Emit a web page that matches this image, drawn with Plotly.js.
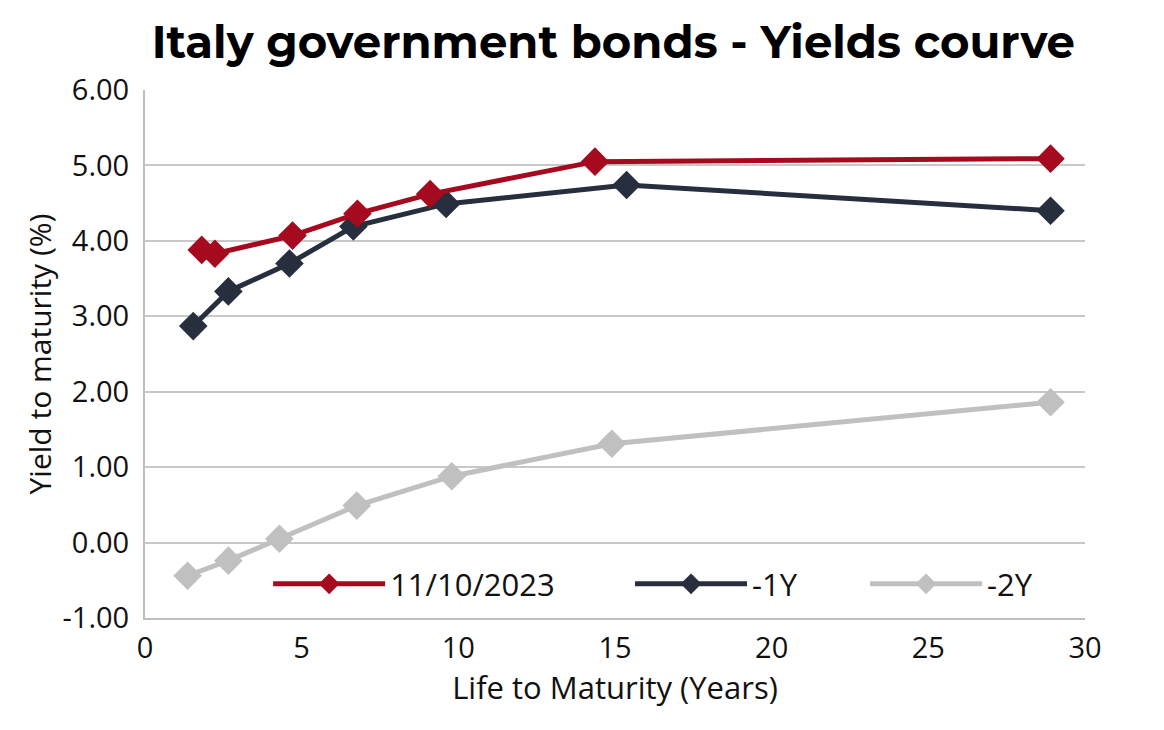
<!DOCTYPE html>
<html>
<head>
<meta charset="utf-8">
<script src="https://cdn.plot.ly/plotly-3.0.1.min.js"></script>
<style>html,body{margin:0;padding:0;background:#fff;}#chart{width:1164px;height:730px;}</style>
</head>
<body>
<div id="chart"></div>
<script>
const seriesNames = ["11/10/2023", "-1Y", "-2Y"];
const xNow = [1.81, 2.23, 4.71, 6.78, 9.10, 14.36, 28.9];
const yNow = [3.88, 3.83, 4.07, 4.36, 4.62, 5.05, 5.09];
const x1Y = [1.54, 2.66, 4.61, 6.65, 9.61, 15.37, 28.9];
const y1Y = [2.87, 3.33, 3.70, 4.19, 4.49, 4.74, 4.40];
const x2Y = [1.36, 2.66, 4.29, 6.76, 9.79, 14.9, 28.9];
const y2Y = [-0.44, -0.24, 0.05, 0.49, 0.88, 1.31, 1.86];
const yTicks = [-1, 0, 1, 2, 3, 4, 5, 6];
const yTickText = ["-1.00", "0.00", "1.00", "2.00", "3.00", "4.00", "5.00", "6.00"];
const xTicks = [0, 5, 10, 15, 20, 25, 30];

const colors = ["#a50a1e", "#272e3e", "#c0c0c0"];
const xs = [xNow, x1Y, x2Y];
const ys = [yNow, y1Y, y2Y];
const legendIds = ["legend", "legend2", "legend3"];
const FONT = "Open Sans, Noto Sans, sans-serif";

const traces = seriesNames.map((n, i) => ({
  x: xs[i], y: ys[i], name: n, type: "scatter", mode: "lines+markers",
  legend: legendIds[i],
  line: {color: colors[i], width: 5},
  marker: {symbol: "diamond", size: 22, color: colors[i]}
})).reverse();

function leg(x) {
  return {orientation: "h", x: x, y: 0.064, xanchor: "left", yanchor: "middle",
          bgcolor: "rgba(0,0,0,0)", font: {family: FONT, size: 31, color: "#111"}, itemwidth: 112};
}

const layout = {
  width: 1164, height: 730,
  paper_bgcolor: "#ffffff", plot_bgcolor: "#ffffff",
  margin: {l: 145, r: 79, t: 90, b: 112},
  title: {text: "<b>Italy government bonds - Yields courve</b>", x: 0.527, xanchor: "center", y: 0.942, yanchor: "middle",
          font: {family: "Montserrat, Open Sans, sans-serif", size: 45, color: "#000", weight: 900}},
  xaxis: {range: [0, 30], tickvals: xTicks, showgrid: false, zeroline: false,
          showline: true, linecolor: "#bfbfbf", linewidth: 2, ticks: "", ticklabelstandoff: 3,
          tickfont: {family: FONT, size: 29, color: "#111"},
          title: {text: "Life to Maturity (Years)", font: {family: FONT, size: 31, color: "#111"}, standoff: 2}},
  yaxis: {range: [-1, 6], tickvals: yTicks, ticktext: yTickText, showgrid: true, gridcolor: "#c8c8c8", gridwidth: 2,
          zeroline: false, showline: true, linecolor: "#bfbfbf", linewidth: 2, ticks: "", ticklabelstandoff: 8,
          tickfont: {family: FONT, size: 29, color: "#111"},
          title: {text: "Yield to maturity (%)", font: {family: FONT, size: 30, color: "#111"}, standoff: 2}},
  legend: leg(0.131),
  legend2: leg(0.516),
  legend3: leg(0.766),
  showlegend: true
};

Plotly.newPlot("chart", traces, layout, {displayModeBar: false, staticPlot: true});
</script>
</body>
</html>
